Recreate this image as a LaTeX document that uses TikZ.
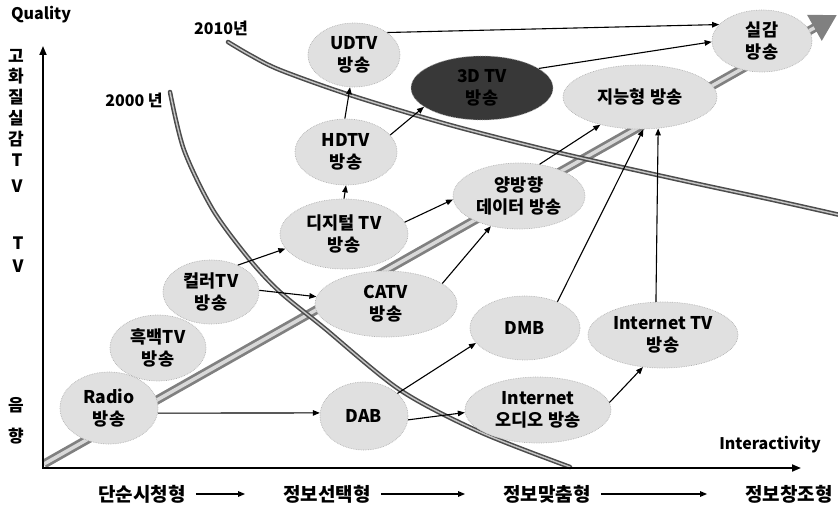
\documentclass[tikz,border=0pt]{standalone}
\usepackage{fontspec}
\setmainfont{Noto Sans CJK KR}
\usetikzlibrary{arrows.meta,shapes.geometric}
\begin{document}
\begin{tikzpicture}[x=1pt,y=-1pt,
  bub/.style={ellipse, draw=gray!60, densely dotted, line width=0.7pt, fill=gray!24, inner sep=0pt, align=center, font=\fontsize{17.5}{22}\selectfont\bfseries},
  con/.style={-{Triangle[length=7pt,width=5.5pt]}, line width=1.1pt, black},
  axisline/.style={{Triangle[length=9pt,width=7pt]}-{Triangle[length=9pt,width=7pt]}, line width=1.8pt, black},
  lab/.style={inner sep=0pt, font=\fontsize{16}{19}\selectfont\bfseries},
  vlab/.style={inner sep=0pt, font=\fontsize{17}{20}\selectfont\bfseries},
  blab/.style={inner sep=0pt, font=\fontsize{19}{22}\selectfont\bfseries},
  curveout/.style={line width=4.5pt, black!70, line cap=round},
  curvein/.style={line width=1.4pt, gray!45, line cap=round},
  stepArrow/.style={-{Triangle[length=7pt,width=5.5pt]}, line width=1.2pt, shorten <=10pt, shorten >=38pt}
]
\useasboundingbox (0,0) rectangle (838,508);

% big gray arrow
\coordinate (ga) at (44,464);
\coordinate (gb) at (837,15);
\draw[line width=9pt, black!50, -{Triangle[length=26pt,width=28pt]}] (ga) -- (gb);
\draw[line width=3.5pt, gray!30, shorten >=26pt] (ga) -- (gb);

% era curves
\draw[curveout] plot[smooth] coordinates {(170,92) (184,150) (213,210) (250,260) (280,292) (323,327) (400,390) (480,432) (570,467)};
\draw[curvein] plot[smooth] coordinates {(170,92) (184,150) (213,210) (250,260) (280,292) (323,327) (400,390) (480,432) (570,467)};
\draw[curveout] plot[smooth] coordinates {(228,42) (250,55) (280,70) (350,95) (450,125) (560,153) (680,180) (773,200) (840,215)};
\draw[curvein] plot[smooth] coordinates {(228,42) (250,55) (280,70) (350,95) (450,125) (560,153) (680,180) (773,200) (840,215)};

% axes
\coordinate (ytop) at (43,46);
\coordinate (o) at (43,468);
\coordinate (xend) at (801,468);
\draw[axisline] (ytop) -- (o) -- (xend);

% nodes
\node[bub, minimum width=98pt, minimum height=72pt] (radio) at (109,408) {Radio\\방송};
\node[bub, minimum width=96pt, minimum height=66pt] (bw) at (158,348) {흑백TV\\방송};
\node[bub, minimum width=96pt, minimum height=64pt] (color) at (211,292) {컬러TV\\방송};
\node[bub, minimum width=128pt, minimum height=70pt] (digital) at (344,234) {디지털 TV\\방송};
\node[bub, minimum width=142pt, minimum height=66pt] (catv) at (386,304) {CATV\\방송};
\node[bub, minimum width=102pt, minimum height=66pt] (hdtv) at (346,152) {HDTV\\방송};
\node[bub, minimum width=92pt, minimum height=64pt] (udtv) at (354,55) {UDTV\\방송};
\node[bub, fill=black!78, text=black, minimum width=142pt, minimum height=64pt] (td) at (482,88) {3D TV\\방송};
\node[bub, minimum width=132pt, minimum height=66pt] (bidir) at (519,196) {양방향\\데이터 방송};
\node[bub, minimum width=154pt, minimum height=64pt] (smart) at (640,97) {지능형 방송};
\node[bub, minimum width=100pt, minimum height=62pt] (real) at (762,41) {실감\\방송};
\node[bub, minimum width=110pt, minimum height=64pt] (dmb) at (525,328) {DMB};
\node[bub, minimum width=150pt, minimum height=66pt] (itv) at (663,335) {Internet TV\\방송};
\node[bub, minimum width=88pt, minimum height=68pt] (dab) at (364,416) {DAB};
\node[bub, minimum width=146pt, minimum height=66pt] (iaudio) at (538,410) {Internet\\오디오 방송};

% connectors
\draw[con] (radio.-6) -- (dab.176);
\draw[con] (dab.34) -- (dmb.197);
\draw[con] (dab.-5) -- (iaudio.182);
\draw[con] (iaudio.6) -- (itv.-122);
\draw[con] (itv.102) -- (smart.-60);
\draw[con] (dmb.39) -- (smart.-84);
\draw[con] (bidir.57) -- (smart.-145);
\draw[con] (catv.20) -- (bidir.-133);
\draw[con] (digital.11) -- (bidir.183);
\draw[con] (color.45) -- (digital.194);
\draw[con] (color.2) -- (catv.174);
\draw[con] (digital.north) -- (hdtv.south);
\draw[con] (hdtv.92) -- (udtv.-97);
\draw[con] (hdtv.21) -- (td.198);
\draw[con] (udtv.34) -- (real.159);
\draw[con] (td.19) -- (real.181);

% labels
\node[lab] (q) at (41,15) {Quality};
\node[lab] (y2010) at (221,28) {2010년};
\node[lab] (y2000) at (134,100) {2000 년};
\node[vlab] (v1) at (16,56) {고};
\node[vlab] (v2) at (16,76) {화};
\node[vlab] (v3) at (16,97) {질};
\node[vlab] (v4) at (16,118) {실};
\node[vlab] (v5) at (16,139) {감};
\node[vlab] (v6) at (17,160) {T};
\node[vlab] (v7) at (17,186) {V};
\node[vlab] (t1) at (18,243) {T};
\node[vlab] (t2) at (18,266) {V};
\node[vlab] (s1) at (16,405) {음};
\node[vlab] (s2) at (16,436) {향};
\node[lab] (inter) at (770,445) {Interactivity};

\node[blab] (b1) at (142,494) {단순시청형};
\node[blab] (b2) at (327,494) {정보선택형};
\node[blab] (b3) at (547,494) {정보맞춤형};
\node[blab] (b4) at (789,494) {정보창조형};
\draw[stepArrow] (b1.east) -- (b2.west);
\draw[stepArrow] (b2.east) -- (b3.west);
\draw[stepArrow] (b3.east) -- (b4.west);
\end{tikzpicture}
\end{document}
